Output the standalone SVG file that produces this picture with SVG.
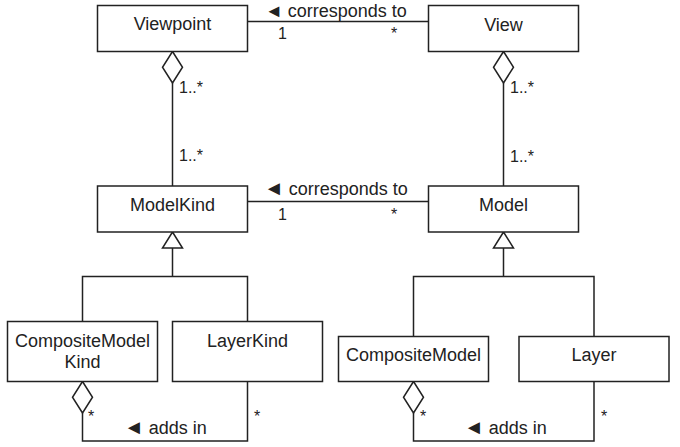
<svg xmlns="http://www.w3.org/2000/svg" width="680" height="447" viewBox="0 0 680 447">
<style>
  .box { fill: #ffffff; stroke: #222222; stroke-width: 1.5; }
  .lbl { font-family: "Liberation Sans", Arial, sans-serif; font-size: 18px; fill: #222222; text-anchor: middle; }
  .edge { fill: none; stroke: #222222; stroke-width: 1.5; }
  .head { fill: #ffffff; stroke: #222222; stroke-width: 1.5; }
  .elbl { font-family: "Liberation Sans", Arial, sans-serif; font-size: 18px; fill: #222222; }
  .tri { font-size: 20px; }
  .mult { font-family: "Liberation Sans", Arial, sans-serif; font-size: 16px; fill: #222222; }
</style>
<rect width="680" height="447" fill="#ffffff"/>
<g id="connectors">
  <path class="edge" d="M247.5 21.5 H428.5"/>
  <path class="edge" d="M247.5 201.5 H428.5"/>
  <path class="edge" d="M172.5 83 V186"/>
  <path class="edge" d="M503.5 83 V186"/>
  <path class="edge" d="M82.5 321.5 V276.5 H247.5 V321.5 M172.5 248 V276.5"/>
  <path class="edge" d="M413.5 336.5 V276.5 H594 V336.5 M503.5 248 V276.5"/>
  <path class="edge" d="M82.5 413 V441 H247.5 V381.5"/>
  <path class="edge" d="M413.5 413 V441 H594 V381.5"/>
  <polygon class="head" points="172.5,51.5 182.5,67.25 172.5,83 162.5,67.25"/>
  <polygon class="head" points="503.5,51.5 513.5,67.25 503.5,83 493.5,67.25"/>
  <polygon class="head" points="82.5,381.5 92.5,397.25 82.5,413 72.5,397.25"/>
  <polygon class="head" points="413.5,381.5 423.5,397.25 413.5,413 403.5,397.25"/>
  <polygon class="head" points="172.5,232 182.5,248 162.5,248"/>
  <polygon class="head" points="503.5,232 513.5,248 493.5,248"/>
  <text class="elbl" x="265" y="17">◄ corresponds to</text>
  <text class="mult" x="278" y="39">1</text>
  <text class="mult" x="391" y="39">*</text>
  <text class="elbl" x="264" y="195"><tspan class="tri">◄</tspan> corresponds to</text>
  <text class="mult" x="278" y="220">1</text>
  <text class="mult" x="391" y="220">*</text>
  <text class="mult" x="179" y="93">1..*</text>
  <text class="mult" x="179" y="161">1..*</text>
  <text class="mult" x="510" y="93">1..*</text>
  <text class="mult" x="510" y="162">1..*</text>
  <text class="mult" x="88" y="422">*</text>
  <text class="mult" x="254" y="422">*</text>
  <text class="elbl" x="124" y="434"><tspan class="tri">◄</tspan> adds in</text>
  <text class="mult" x="420" y="422">*</text>
  <text class="mult" x="601" y="422">*</text>
  <text class="elbl" x="464" y="434"><tspan class="tri">◄</tspan> adds in</text>
</g>
<g id="Viewpoint"><rect class="box" x="97.5" y="5.5" width="150" height="46"/><text class="lbl" x="172.5" y="30">Viewpoint</text></g>
<g id="View"><rect class="box" x="428.5" y="5.5" width="150" height="46"/><text class="lbl" x="503.5" y="31">View</text></g>
<g id="ModelKind"><rect class="box" x="97.5" y="186" width="150" height="46"/><text class="lbl" x="172.5" y="211">ModelKind</text></g>
<g id="Model"><rect class="box" x="428.5" y="186" width="150" height="46"/><text class="lbl" x="503.5" y="211">Model</text></g>
<g id="CompositeModelKind"><rect class="box" x="7.5" y="321.5" width="150" height="60"/><text class="lbl" x="82.5" y="347">CompositeModel</text><text class="lbl" x="82.5" y="368">Kind</text></g>
<g id="LayerKind"><rect class="box" x="172.5" y="321.5" width="150" height="60"/><text class="lbl" x="247.5" y="347">LayerKind</text></g>
<g id="CompositeModel"><rect class="box" x="338.5" y="336.5" width="150" height="45"/><text class="lbl" x="413.5" y="361">CompositeModel</text></g>
<g id="Layer"><rect class="box" x="519" y="336.5" width="150" height="45"/><text class="lbl" x="594" y="361">Layer</text></g>
</svg>
